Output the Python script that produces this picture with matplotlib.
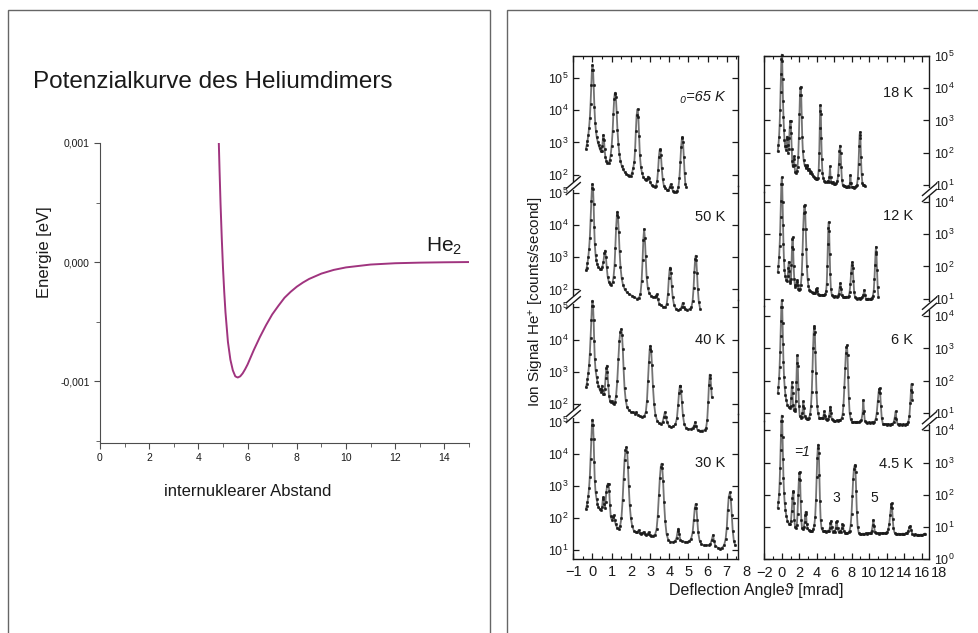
import numpy as np
import matplotlib.pyplot as plt
from matplotlib.lines import Line2D
from matplotlib.patches import Rectangle
from matplotlib.ticker import MultipleLocator, FixedLocator, FuncFormatter, NullLocator, LogLocator

plt.rcParams['font.family'] = ['Liberation Sans', 'DejaVu Sans']
plt.rcParams['mathtext.fontset'] = 'custom'
plt.rcParams['mathtext.rm'] = 'Liberation Sans'
plt.rcParams['mathtext.it'] = 'Liberation Sans:italic'
plt.rcParams['mathtext.bf'] = 'Liberation Sans:bold'

# --- He2 pair potential (r, energy in eV)
r_he2 = [4.83, 4.86, 4.90, 4.95, 5.00, 5.05, 5.10, 5.20, 5.30, 5.40, 5.50, 5.60, 5.70, 5.80,
         5.90, 6.00, 6.25, 6.50, 6.75, 7.00, 7.25, 7.50, 7.75, 8.00, 8.25, 8.50, 9.00, 9.50,
         10.0, 11.0, 12.0, 13.0, 14.0, 15.0]
e_he2 = [0.00100, 0.00077, 0.00049, 0.00020, -0.00005, -0.00025, -0.00042, -0.00067, -0.00082,
         -0.00091, -0.00096, -0.00097, -0.00096, -0.000935, -0.000900, -0.00086, -0.00074,
         -0.00063, -0.00053, -0.00044, -0.000368, -0.000300, -0.000250, -0.000207, -0.000172,
         -0.000142, -0.000097, -0.000066, -0.000045, -0.000021, -0.00001, -0.000005, -0.000002, 0.0]

# --- deflection spectra: (angle [mrad], log10 ion signal [counts/s])
t65 = [(-0.34, 2.80), (-0.30, 2.92), (-0.26, 3.05), (-0.22, 3.22), (-0.18, 3.45), (-0.14, 3.75),
       (-0.10, 4.20), (-0.06, 4.80), (-0.03, 5.25), (0.0, 5.41), (0.03, 5.25), (0.06, 4.80),
       (0.10, 4.10), (0.14, 3.62), (0.18, 3.35), (0.22, 3.17), (0.27, 3.03), (0.32, 2.92),
       (0.37, 2.82), (0.42, 2.74), (0.47, 2.72), (0.51, 2.88), (0.54, 3.10), (0.57, 3.24),
       (0.60, 3.08), (0.63, 2.80), (0.67, 2.55), (0.72, 2.43), (0.78, 2.37), (0.84, 2.36),
       (0.90, 2.45), (0.95, 2.62), (1.00, 2.90), (1.05, 3.35), (1.09, 3.90), (1.13, 4.35),
       (1.16, 4.52), (1.19, 4.55), (1.22, 4.40), (1.26, 3.95), (1.30, 3.40), (1.35, 2.95),
       (1.40, 2.65), (1.46, 2.42), (1.53, 2.26), (1.60, 2.16), (1.68, 2.08), (1.76, 2.02),
       (1.84, 1.98), (1.92, 1.96), (2.00, 1.97), (2.06, 2.05), (2.12, 2.20), (2.18, 2.40),
       (2.22, 2.77), (2.26, 3.35), (2.30, 3.85), (2.35, 4.04), (2.39, 3.80), (2.43, 3.20),
       (2.47, 2.60), (2.52, 2.25), (2.58, 2.05), (2.65, 1.93), (2.72, 1.86), (2.79, 1.83),
       (2.85, 1.86), (2.90, 1.94), (2.95, 1.88), (3.01, 1.76), (3.08, 1.68), (3.16, 1.64),
       (3.24, 1.63), (3.31, 1.66), (3.37, 1.80), (3.42, 2.15), (3.46, 2.55), (3.50, 2.77),
       (3.53, 2.79), (3.57, 2.60), (3.61, 2.20), (3.66, 1.85), (3.72, 1.66), (3.80, 1.57),
       (3.88, 1.53), (3.96, 1.53), (4.02, 1.60), (4.07, 1.70), (4.12, 1.60), (4.19, 1.50),
       (4.26, 1.46), (4.34, 1.47), (4.42, 1.50), (4.48, 1.62), (4.53, 1.90), (4.58, 2.40),
       (4.62, 2.85), (4.66, 3.13), (4.69, 3.17), (4.72, 3.00), (4.76, 2.55), (4.80, 2.05),
       (4.84, 1.72), (4.88, 1.62)]

t50 = [(-0.34, 2.59), (-0.30, 2.68), (-0.26, 2.82), (-0.22, 3.00), (-0.18, 3.25), (-0.14, 3.60),
       (-0.10, 4.15), (-0.06, 4.75), (-0.03, 5.15), (0.0, 5.28), (0.03, 5.12), (0.06, 4.66),
       (0.09, 3.95), (0.12, 3.40), (0.16, 3.08), (0.20, 2.90), (0.25, 2.78), (0.31, 2.69),
       (0.38, 2.65), (0.45, 2.64), (0.51, 2.70), (0.57, 2.85), (0.62, 3.12), (0.66, 3.21),
       (0.70, 3.00), (0.74, 2.70), (0.79, 2.40), (0.85, 2.24), (0.92, 2.17), (0.99, 2.15),
       (1.05, 2.22), (1.10, 2.40), (1.15, 2.75), (1.19, 3.30), (1.23, 3.90), (1.27, 4.30),
       (1.30, 4.42), (1.33, 4.25), (1.37, 3.80), (1.41, 3.20), (1.46, 2.70), (1.52, 2.35),
       (1.59, 2.14), (1.68, 2.00), (1.79, 1.91), (1.92, 1.85), (2.05, 1.81), (2.18, 1.76),
       (2.31, 1.71), (2.42, 1.74), (2.50, 1.85), (2.56, 2.25), (2.61, 2.90), (2.65, 3.55),
       (2.69, 3.88), (2.73, 3.60), (2.77, 3.05), (2.82, 2.40), (2.88, 2.05), (2.96, 1.88),
       (3.06, 1.80), (3.16, 1.76), (3.24, 1.76), (3.30, 1.80), (3.35, 1.85), (3.40, 1.70),
       (3.48, 1.56), (3.58, 1.50), (3.70, 1.46), (3.80, 1.45), (3.87, 1.55), (3.93, 1.85),
       (3.98, 2.35), (4.02, 2.62), (4.05, 2.68), (4.09, 2.50), (4.13, 2.10), (4.18, 1.75),
       (4.25, 1.52), (4.35, 1.40), (4.45, 1.35), (4.56, 1.38), (4.64, 1.45), (4.70, 1.58),
       (4.75, 1.45), (4.83, 1.38), (4.95, 1.37), (5.07, 1.39), (5.16, 1.45), (5.22, 1.65),
       (5.27, 2.05), (5.31, 2.55), (5.35, 2.95), (5.38, 3.05), (5.41, 2.92), (5.45, 2.50),
       (5.49, 2.00), (5.54, 1.62), (5.61, 1.40)]

t40 = [(-0.34, 2.52), (-0.30, 2.62), (-0.26, 2.76), (-0.22, 2.95), (-0.18, 3.20), (-0.14, 3.55),
       (-0.10, 4.05), (-0.06, 4.60), (-0.03, 5.05), (0.0, 5.21), (0.03, 5.05), (0.06, 4.60),
       (0.09, 3.95), (0.12, 3.40), (0.16, 3.05), (0.21, 2.85), (0.26, 2.68), (0.31, 2.57),
       (0.37, 2.45), (0.42, 2.38), (0.46, 2.45), (0.49, 2.57), (0.52, 2.42), (0.56, 2.31),
       (0.60, 2.30), (0.64, 2.45), (0.68, 2.80), (0.72, 3.10), (0.75, 3.19), (0.78, 3.00),
       (0.82, 2.60), (0.86, 2.25), (0.91, 2.10), (0.96, 2.05), (1.00, 2.08), (1.05, 2.02),
       (1.11, 2.00), (1.17, 2.05), (1.23, 2.25), (1.29, 2.70), (1.35, 3.40), (1.40, 3.95),
       (1.45, 4.25), (1.50, 4.33), (1.54, 4.15), (1.58, 3.70), (1.62, 3.10), (1.67, 2.50),
       (1.73, 2.12), (1.80, 1.90), (1.90, 1.80), (2.00, 1.75), (2.10, 1.74), (2.20, 1.70),
       (2.28, 1.74), (2.36, 1.66), (2.46, 1.61), (2.58, 1.60), (2.70, 1.62), (2.78, 1.75),
       (2.84, 2.10), (2.89, 2.70), (2.94, 3.30), (2.98, 3.70), (3.02, 3.81), (3.06, 3.65),
       (3.10, 3.20), (3.15, 2.55), (3.21, 2.00), (3.28, 1.66), (3.37, 1.48), (3.48, 1.40),
       (3.58, 1.38), (3.66, 1.44), (3.72, 1.60), (3.77, 1.74), (3.82, 1.60), (3.89, 1.43),
       (3.98, 1.32), (4.10, 1.27), (4.22, 1.30), (4.32, 1.36), (4.40, 1.55), (4.46, 1.95),
       (4.51, 2.35), (4.55, 2.55), (4.58, 2.57), (4.62, 2.40), (4.66, 2.05), (4.71, 1.65),
       (4.78, 1.38), (4.88, 1.25), (5.00, 1.22), (5.12, 1.22), (5.22, 1.25), (5.30, 1.32),
       (5.35, 1.43), (5.40, 1.30), (5.48, 1.18), (5.60, 1.16), (5.72, 1.17), (5.84, 1.18),
       (5.92, 1.25), (5.98, 1.50), (6.03, 2.05), (6.07, 2.60), (6.11, 2.91), (6.15, 2.80),
       (6.19, 2.50), (6.22, 2.20)]

t30 = [(-0.34, 2.29), (-0.30, 2.38), (-0.26, 2.50), (-0.22, 2.68), (-0.18, 2.92), (-0.14, 3.28),
       (-0.10, 3.85), (-0.06, 4.45), (-0.03, 4.90), (0.0, 5.06), (0.03, 4.90), (0.06, 4.45),
       (0.09, 3.75), (0.12, 3.15), (0.16, 2.80), (0.21, 2.60), (0.26, 2.45), (0.31, 2.34),
       (0.38, 2.27), (0.45, 2.24), (0.50, 2.35), (0.54, 2.58), (0.57, 2.65), (0.60, 2.45),
       (0.64, 2.32), (0.68, 2.50), (0.72, 2.80), (0.76, 3.00), (0.80, 3.07), (0.84, 3.05),
       (0.87, 2.85), (0.91, 2.40), (0.95, 2.05), (1.00, 1.95), (1.05, 2.02), (1.10, 2.08),
       (1.15, 1.95), (1.21, 1.80), (1.28, 1.70), (1.36, 1.67), (1.44, 1.75), (1.51, 2.00),
       (1.57, 2.55), (1.62, 3.20), (1.67, 3.80), (1.72, 4.12), (1.77, 4.20), (1.81, 4.05),
       (1.85, 3.60), (1.89, 3.00), (1.94, 2.40), (2.00, 2.00), (2.07, 1.75), (2.16, 1.60),
       (2.26, 1.55), (2.34, 1.57), (2.40, 1.62), (2.46, 1.53), (2.54, 1.50), (2.60, 1.52),
       (2.66, 1.57), (2.72, 1.50), (2.80, 1.47), (2.87, 1.50), (2.92, 1.56), (2.98, 1.48),
       (3.06, 1.45), (3.16, 1.45), (3.26, 1.48), (3.34, 1.65), (3.40, 2.05), (3.46, 2.70),
       (3.51, 3.25), (3.56, 3.60), (3.60, 3.69), (3.64, 3.55), (3.68, 3.15), (3.73, 2.50),
       (3.79, 1.90), (3.86, 1.50), (3.95, 1.32), (4.06, 1.26), (4.18, 1.25), (4.30, 1.28),
       (4.38, 1.38), (4.44, 1.58), (4.48, 1.67), (4.52, 1.50), (4.58, 1.32), (4.68, 1.27),
       (4.80, 1.26), (4.92, 1.25), (5.04, 1.28), (5.14, 1.35), (5.22, 1.55), (5.28, 1.95),
       (5.33, 2.30), (5.38, 2.44), (5.42, 2.30), (5.46, 1.95), (5.51, 1.55), (5.58, 1.30),
       (5.68, 1.18), (5.80, 1.15), (5.94, 1.15), (6.06, 1.16), (6.15, 1.20), (6.22, 1.33),
       (6.28, 1.47), (6.33, 1.30), (6.40, 1.14), (6.52, 1.08), (6.64, 1.05), (6.76, 1.08),
       (6.86, 1.15), (6.94, 1.35), (7.00, 1.70), (7.05, 2.25), (7.10, 2.65), (7.16, 2.80),
       (7.21, 2.60), (7.26, 2.10), (7.31, 1.60), (7.37, 1.28), (7.44, 1.15)]

t18 = [(-0.46, 2.04), (-0.38, 2.25), (-0.31, 2.50), (-0.25, 2.85), (-0.19, 3.33), (-0.14, 3.90),
       (-0.10, 4.45), (-0.05, 4.90), (0.0, 5.05), (0.05, 4.85), (0.09, 4.30), (0.14, 3.60),
       (0.19, 3.12), (0.25, 2.70), (0.31, 2.40), (0.38, 2.20), (0.46, 2.09), (0.52, 2.20),
       (0.57, 2.42), (0.61, 2.50), (0.66, 2.25), (0.72, 1.99), (0.79, 2.10), (0.85, 2.45),
       (0.91, 2.80), (0.97, 2.98), (1.02, 2.99), (1.07, 2.60), (1.13, 2.10), (1.19, 1.75),
       (1.25, 1.57), (1.31, 1.62), (1.36, 1.80), (1.41, 1.88), (1.46, 1.60), (1.52, 1.40),
       (1.60, 1.37), (1.70, 1.42), (1.80, 1.55), (1.88, 1.85), (1.95, 2.45), (2.02, 3.20),
       (2.08, 3.80), (2.13, 4.02), (2.17, 4.05), (2.22, 3.80), (2.28, 3.10), (2.34, 2.50),
       (2.41, 2.05), (2.50, 1.78), (2.60, 1.62), (2.72, 1.55), (2.82, 1.52), (2.88, 1.57),
       (2.93, 1.60), (2.98, 1.48), (3.05, 1.45), (3.12, 1.50), (3.18, 1.42), (3.27, 1.38),
       (3.35, 1.40), (3.43, 1.32), (3.55, 1.28), (3.66, 1.25), (3.75, 1.22), (3.85, 1.20),
       (3.95, 1.18), (4.05, 1.18), (4.13, 1.22), (4.22, 1.45), (4.29, 2.00), (4.34, 2.75),
       (4.38, 3.30), (4.42, 3.48), (4.47, 3.20), (4.52, 2.45), (4.58, 1.80), (4.65, 1.38),
       (4.75, 1.20), (4.88, 1.12), (5.00, 1.10), (5.12, 1.08), (5.24, 1.12), (5.36, 1.10),
       (5.45, 1.25), (5.52, 1.57), (5.58, 1.25), (5.66, 1.08), (5.78, 1.05), (5.90, 1.08),
       (6.02, 1.03), (6.14, 1.02), (6.26, 1.06), (6.36, 1.12), (6.45, 1.30), (6.53, 1.65),
       (6.60, 2.05), (6.67, 2.22), (6.73, 2.00), (6.80, 1.55), (6.88, 1.15), (6.98, 0.98),
       (7.10, 0.95), (7.22, 0.97), (7.34, 0.93), (7.46, 0.92), (7.58, 0.95), (7.70, 0.93),
       (7.79, 1.05), (7.85, 1.30), (7.91, 1.05), (8.00, 0.92), (8.12, 0.93), (8.24, 0.90),
       (8.36, 0.93), (8.48, 0.95), (8.60, 1.00), (8.70, 1.20), (8.78, 1.65), (8.85, 2.20),
       (8.90, 2.55), (8.95, 2.64), (9.00, 2.45), (9.06, 1.85), (9.13, 1.35), (9.22, 1.05),
       (9.32, 0.98), (9.42, 1.00), (9.52, 0.95)]

t12 = [(-0.46, 1.83), (-0.38, 2.02), (-0.31, 2.30), (-0.25, 2.62), (-0.19, 3.02), (-0.14, 3.55),
       (-0.10, 4.05), (-0.05, 4.55), (0.0, 4.77), (0.05, 4.55), (0.09, 4.00), (0.14, 3.30),
       (0.19, 2.71), (0.25, 2.20), (0.31, 1.89), (0.40, 1.70), (0.50, 1.58), (0.60, 1.55),
       (0.68, 1.70), (0.74, 1.95), (0.80, 2.14), (0.86, 1.85), (0.93, 1.55), (0.99, 1.48),
       (1.05, 1.62), (1.11, 2.05), (1.17, 2.60), (1.21, 2.85), (1.25, 2.90), (1.30, 2.55),
       (1.36, 2.00), (1.43, 1.60), (1.50, 1.42), (1.56, 1.37), (1.64, 1.42), (1.70, 1.52),
       (1.75, 1.58), (1.81, 1.42), (1.90, 1.30), (1.98, 1.27), (2.08, 1.30), (2.18, 1.42),
       (2.28, 1.75), (2.37, 2.40), (2.45, 3.15), (2.52, 3.65), (2.58, 3.88), (2.63, 3.92),
       (2.68, 3.70), (2.74, 3.15), (2.80, 2.55), (2.87, 2.00), (2.95, 1.62), (3.05, 1.40),
       (3.16, 1.28), (3.28, 1.24), (3.40, 1.20), (3.52, 1.17), (3.64, 1.16), (3.76, 1.18),
       (3.88, 1.22), (3.95, 1.30), (4.00, 1.32), (4.06, 1.22), (4.16, 1.14), (4.28, 1.11),
       (4.42, 1.12), (4.56, 1.10), (4.70, 1.12), (4.84, 1.10), (4.96, 1.13), (5.06, 1.22),
       (5.14, 1.45), (5.21, 2.00), (5.27, 2.70), (5.32, 3.20), (5.37, 3.38), (5.42, 3.10),
       (5.48, 2.40), (5.54, 1.75), (5.62, 1.30), (5.72, 1.12), (5.86, 1.08), (6.00, 1.06),
       (6.14, 1.07), (6.28, 1.06), (6.40, 1.08), (6.52, 1.15), (6.62, 1.35), (6.70, 1.48),
       (6.77, 1.30), (6.86, 1.10), (6.98, 1.05), (7.12, 1.06), (7.26, 1.04), (7.40, 1.06),
       (7.54, 1.05), (7.66, 1.08), (7.76, 1.20), (7.85, 1.45), (7.93, 1.80), (8.00, 2.05),
       (8.07, 2.14), (8.13, 1.95), (8.20, 1.55), (8.28, 1.20), (8.38, 1.04), (8.52, 1.02),
       (8.66, 1.00), (8.80, 1.01), (8.94, 1.00), (9.08, 1.02), (9.22, 1.05), (9.34, 1.12),
       (9.44, 1.27), (9.52, 1.10), (9.62, 1.00), (9.76, 0.99), (9.90, 1.00), (10.04, 0.99),
       (10.18, 1.00), (10.30, 1.02), (10.42, 1.08), (10.52, 1.25), (10.60, 1.60), (10.67, 2.05),
       (10.73, 2.45), (10.78, 2.61), (10.83, 2.40), (10.90, 1.89), (10.97, 1.35), (11.05, 1.06)]

t6 = [(-0.46, 1.61), (-0.38, 1.80), (-0.31, 2.07), (-0.25, 2.42), (-0.19, 2.89), (-0.14, 3.40),
      (-0.10, 3.85), (-0.05, 4.30), (0.0, 4.50), (0.05, 4.30), (0.09, 3.80), (0.14, 3.15),
      (0.19, 2.59), (0.26, 2.10), (0.33, 1.80), (0.42, 1.55), (0.52, 1.38), (0.65, 1.24),
      (0.78, 1.17), (0.90, 1.14), (1.00, 1.20), (1.07, 1.45), (1.13, 1.80), (1.18, 1.95),
      (1.23, 1.60), (1.29, 1.24), (1.37, 1.08), (1.46, 1.04), (1.54, 1.10), (1.61, 1.35),
      (1.67, 1.95), (1.73, 2.55), (1.79, 2.79), (1.84, 2.45), (1.90, 1.75), (1.97, 1.20),
      (2.05, 0.90), (2.15, 0.85), (2.26, 0.88), (2.36, 1.00), (2.42, 1.22), (2.47, 1.35),
      (2.52, 1.15), (2.60, 0.90), (2.72, 0.82), (2.86, 0.80), (3.00, 0.80), (3.12, 0.85),
      (3.24, 0.95), (3.34, 1.20), (3.43, 1.65), (3.51, 2.30), (3.58, 3.00), (3.64, 3.45),
      (3.69, 3.65), (3.73, 3.70), (3.78, 3.50), (3.84, 2.90), (3.90, 2.25), (3.97, 1.65),
      (4.05, 1.22), (4.15, 0.98), (4.28, 0.85), (4.42, 0.82), (4.56, 0.84), (4.68, 0.83),
      (4.78, 0.92), (4.87, 1.04), (4.95, 0.90), (5.06, 0.80), (5.18, 0.78), (5.30, 0.80),
      (5.42, 0.90), (5.50, 1.08), (5.56, 1.19), (5.62, 1.00), (5.72, 0.80), (5.86, 0.76),
      (6.00, 0.75), (6.14, 0.74), (6.28, 0.76), (6.42, 0.74), (6.56, 0.76), (6.70, 0.78),
      (6.84, 0.82), (6.96, 0.95), (7.06, 1.25), (7.16, 1.80), (7.25, 2.40), (7.33, 2.85),
      (7.40, 3.05), (7.46, 3.10), (7.52, 2.80), (7.59, 2.10), (7.67, 1.45), (7.76, 1.00),
      (7.88, 0.80), (8.02, 0.72), (8.18, 0.70), (8.34, 0.72), (8.50, 0.70), (8.66, 0.72),
      (8.82, 0.70), (8.98, 0.73), (9.12, 0.78), (9.24, 0.98), (9.33, 1.40), (9.40, 1.05),
      (9.50, 0.75), (9.64, 0.70), (9.80, 0.68), (9.96, 0.70), (10.12, 0.68), (10.28, 0.70),
      (10.44, 0.68), (10.60, 0.72), (10.74, 0.80), (10.86, 0.98), (10.98, 1.35), (11.08, 1.65),
      (11.15, 1.74), (11.20, 1.76), (11.26, 1.60), (11.34, 1.20), (11.44, 0.82), (11.56, 0.66),
      (11.72, 0.64), (11.88, 0.65), (12.04, 0.63), (12.20, 0.65), (12.36, 0.63), (12.52, 0.65),
      (12.66, 0.66), (12.80, 0.70), (12.92, 0.85), (13.03, 1.04), (13.12, 0.80), (13.24, 0.65),
      (13.40, 0.63), (13.56, 0.64), (13.72, 0.62), (13.88, 0.64), (14.04, 0.63), (14.20, 0.64),
      (14.34, 0.66), (14.48, 0.72), (14.60, 0.90), (14.70, 1.30), (14.78, 1.70), (14.85, 1.90),
      (14.90, 1.65), (14.93, 1.40)]

t45 = [(-0.46, 1.60), (-0.38, 1.78), (-0.31, 2.01), (-0.25, 2.35), (-0.19, 2.84), (-0.14, 3.40),
       (-0.10, 3.87), (-0.05, 4.28), (0.0, 4.46), (0.05, 4.28), (0.09, 3.80), (0.14, 3.10),
       (0.19, 2.53), (0.26, 2.05), (0.33, 1.75), (0.42, 1.52), (0.52, 1.35), (0.65, 1.18),
       (0.80, 1.10), (0.95, 1.08), (1.05, 1.18), (1.14, 1.50), (1.22, 1.90), (1.28, 2.08),
       (1.33, 2.11), (1.38, 1.75), (1.44, 1.20), (1.52, 1.00), (1.62, 0.97), (1.72, 1.05),
       (1.80, 1.40), (1.88, 2.00), (1.96, 2.50), (2.01, 2.68), (2.05, 2.71), (2.10, 2.45),
       (2.16, 1.80), (2.24, 1.20), (2.32, 0.95), (2.42, 0.92), (2.52, 0.98), (2.60, 1.15),
       (2.68, 1.38), (2.73, 1.47), (2.78, 1.40), (2.85, 1.10), (2.94, 0.95), (3.06, 0.90),
       (3.20, 0.87), (3.34, 0.88), (3.48, 0.86), (3.60, 0.92), (3.72, 1.05), (3.82, 1.30),
       (3.91, 1.85), (3.99, 2.55), (4.06, 3.15), (4.12, 3.45), (4.18, 3.56), (4.24, 3.30),
       (4.30, 2.60), (4.37, 1.80), (4.45, 1.20), (4.55, 0.95), (4.68, 0.88), (4.82, 0.86),
       (4.96, 0.87), (5.10, 0.85), (5.24, 0.88), (5.36, 0.86), (5.48, 0.95), (5.57, 1.12),
       (5.64, 1.18), (5.71, 0.98), (5.82, 0.85), (5.94, 0.86), (6.06, 0.84), (6.16, 0.95),
       (6.24, 1.15), (6.30, 1.18), (6.38, 0.95), (6.50, 0.84), (6.62, 0.86), (6.74, 0.85),
       (6.86, 0.95), (6.94, 1.08), (7.00, 1.06), (7.08, 0.88), (7.22, 0.81), (7.36, 0.82),
       (7.50, 0.80), (7.64, 0.83), (7.76, 0.88), (7.88, 1.05), (7.98, 1.40), (8.08, 1.95),
       (8.17, 2.50), (8.25, 2.80), (8.32, 2.90), (8.38, 2.93), (8.44, 2.70), (8.51, 2.10),
       (8.59, 1.45), (8.68, 1.00), (8.80, 0.82), (8.96, 0.78), (9.12, 0.77), (9.28, 0.79),
       (9.44, 0.78), (9.60, 0.80), (9.76, 0.79), (9.90, 0.81), (10.04, 0.80), (10.18, 0.82),
       (10.30, 0.88), (10.40, 1.05), (10.48, 1.22), (10.55, 1.02), (10.66, 0.83), (10.80, 0.80),
       (10.96, 0.81), (11.12, 0.79), (11.28, 0.81), (11.44, 0.80), (11.60, 0.81), (11.76, 0.80),
       (11.92, 0.82), (12.06, 0.84), (12.18, 0.92), (12.30, 1.10), (12.40, 1.38), (12.48, 1.62),
       (12.53, 1.72), (12.57, 1.73), (12.62, 1.60), (12.69, 1.25), (12.78, 0.95), (12.90, 0.82),
       (13.06, 0.79), (13.22, 0.78), (13.38, 0.79), (13.54, 0.77), (13.70, 0.78), (13.86, 0.79),
       (14.02, 0.78), (14.18, 0.80), (14.34, 0.82), (14.48, 0.88), (14.60, 0.98), (14.70, 1.03),
       (14.80, 0.90), (14.94, 0.78), (15.10, 0.75), (15.26, 0.77), (15.42, 0.74), (15.58, 0.76),
       (15.74, 0.74), (15.90, 0.76), (16.06, 0.75), (16.22, 0.77), (16.37, 0.79)]

# panel y ranges in decades (lower, upper)
left_lims = [(1.66, 5.69), (1.68, 5.23), (1.70, 5.24), (0.74, 5.25)]
right_lims = [(0.76, 5.005), (0.76, 4.30), (0.75, 4.31), (-0.01, 4.30)]
left_temps = ['\u2080=65 K', '50 K', '40 K', '30 K']
right_temps = ['18 K', '12 K', '6 K', '4.5 K']

W, H = 979, 633
fig = plt.figure(figsize=(W / 100, H / 100), dpi=100)
INK = '#1a1a1a'


def box(x0, y0, x1, y1):
    return [x0 / W, 1 - y1 / H, (x1 - x0) / W, (y1 - y0) / H]


def ftext(x, y, s, **kw):
    fig.text(x / W, 1 - y / H, s, color=INK, **kw)


# outer frames of the two halves
for x0, x1 in [(8, 490), (507, 1000)]:
    fig.add_artist(Rectangle((x0 / W, -0.1), (x1 - x0) / W, 1 - 10 / H + 0.1,
                             transform=fig.transFigure, fill=False, ec='0.4', lw=1.0))

# ---------------- left half: potential curve
ax = fig.add_axes(box(100, 143, 469, 443))
ax.plot(r_he2, e_he2, color='#a0347f', lw=1.4)
ax.set_xlim(0, 15)
ax.set_ylim(-0.00152, 0.001)
for s in ['top', 'right']:
    ax.spines[s].set_visible(False)
for s in ['left', 'bottom']:
    ax.spines[s].set_color('0.3')
ax.xaxis.set_major_locator(MultipleLocator(2))
ax.xaxis.set_minor_locator(MultipleLocator(1))
ax.yaxis.set_major_locator(FixedLocator([-0.001, 0.0, 0.001]))
ax.yaxis.set_minor_locator(MultipleLocator(0.0005))
ax.yaxis.set_major_formatter(FuncFormatter(lambda v, p: f'{v:.3f}'.replace('.', ',').replace('\u2212', '-')))
ax.tick_params(which='both', direction='out', colors='0.3', labelcolor=INK, labelsize=7.5)
ax.tick_params(which='major', length=4)
ax.tick_params(which='minor', length=3)

ftext(33, 82, 'Potenzialkurve des Heliumdimers', fontsize=17.5, va='center')
ftext(45, 252, 'Energie [eV]', fontsize=12, rotation=90, ha='center', va='center')
ftext(248, 492, 'internuklearer Abstand', fontsize=12, ha='center', va='center')
ftext(426, 246, 'He$_2$', fontsize=15, va='center')

# ---------------- right half: deflection spectra, two stacked log columns
PX_DEC = 32.15


def column(x0, x1, top, lims):
    axs = []
    y = top
    bounds = []
    for lo, hi in lims:
        h = (hi - lo) * PX_DEC
        a = fig.add_axes(box(x0, y, x1, y + h))
        a.set_yscale('log')
        a.set_ylim(10 ** lo, 10 ** hi)
        a.patch.set_alpha(0)
        y += h
        bounds.append(y)
        axs.append(a)
    return axs, bounds[:-1]


def style(axs, xlim, major, minor, side):
    n = len(axs)
    for i, a in enumerate(axs):
        a.set_xlim(*xlim)
        a.xaxis.set_major_locator(MultipleLocator(major))
        a.xaxis.set_minor_locator(MultipleLocator(minor))
        a.yaxis.set_major_locator(LogLocator(base=10, numticks=10))
        a.yaxis.set_minor_locator(NullLocator())
        for s in a.spines.values():
            s.set_color(INK)
            s.set_linewidth(1.0)
        if i > 0:
            a.spines['top'].set_visible(False)
        if i < n - 1:
            a.spines['bottom'].set_visible(False)
        a.tick_params(which='both', direction='in', colors=INK, labelsize=9,
                      top=(i == 0), bottom=(i == n - 1), left=True, right=True,
                      labelbottom=(i == n - 1), labeltop=False,
                      labelleft=(side == 'left'), labelright=(side == 'right'))
        a.tick_params(which='major', length=4, width=0.9)
        a.tick_params(which='minor', length=2.5, width=0.8)
        a.tick_params(axis='x', labelsize=10.5, pad=5)


laxs, lb = column(573.3, 738.3, 56, left_lims)
raxs, rb = column(764.3, 929.5, 56, right_lims)
style(laxs, (-1, 7.6), 1, 0.5, 'left')
style(raxs, (-2, 16.9), 2, 1, 'right')

for axs, sets in [(laxs, [t65, t50, t40, t30]), (raxs, [t18, t12, t6, t45])]:
    for a, pts in zip(axs, sets):
        xs, lg = zip(*pts)
        a.plot(xs, 10 ** np.array(lg), color='0.45', lw=1.3, marker='o', ms=1.7,
               mfc=INK, mec=INK, mew=0.4, clip_on=False)

# tick labels that sit just past the right edge of each column
for a, xv in [(laxs[-1], 8), (raxs[-1], 18)]:
    a.annotate(str(xv), xy=(xv, 0), xycoords=('data', 'axes fraction'),
               xytext=(0, -5), textcoords='offset points', ha='center', va='top',
               fontsize=10.5, color=INK, annotation_clip=False)


def axis_break(x, y):
    fig.add_artist(Rectangle(((x - 2) / W, 1 - (y + 4) / H), 4 / W, 8 / H,
                             transform=fig.transFigure, fc='white', ec='none', zorder=5))
    for d in (-3, 3):
        fig.add_artist(Line2D([(x - 7) / W, (x + 7) / W], [1 - (y + d + 6) / H, 1 - (y + d - 6) / H],
                              transform=fig.transFigure, color=INK, lw=1.0, zorder=6))


for y in lb:
    axis_break(573.3, y)
for y in rb:
    axis_break(929.5, y)

# temperature labels
for y, s in zip([97, 217, 340, 463], left_temps):
    ftext(725, y, s, fontsize=10.5, ha='right', va='center',
          style='italic' if s.startswith('\u2080') else 'normal')
for y, s in zip([93, 216, 340, 464], right_temps):
    ftext(913, y, s, fontsize=10.5, ha='right', va='center')
ftext(794, 452, '=1', fontsize=10, style='italic', va='center')
ftext(836.7, 498, '3', fontsize=10, ha='center', va='center')
ftext(874, 498, '5', fontsize=10, ha='center', va='center')

ftext(537, 302, 'Ion Signal He$^{+}$ [counts/second]', fontsize=11, rotation=90,
      ha='center', va='center')
ftext(756, 590, 'Deflection Angle\u03d1 [mrad]', fontsize=11.5, ha='center', va='center')

fig.savefig('out.png', dpi=100)
